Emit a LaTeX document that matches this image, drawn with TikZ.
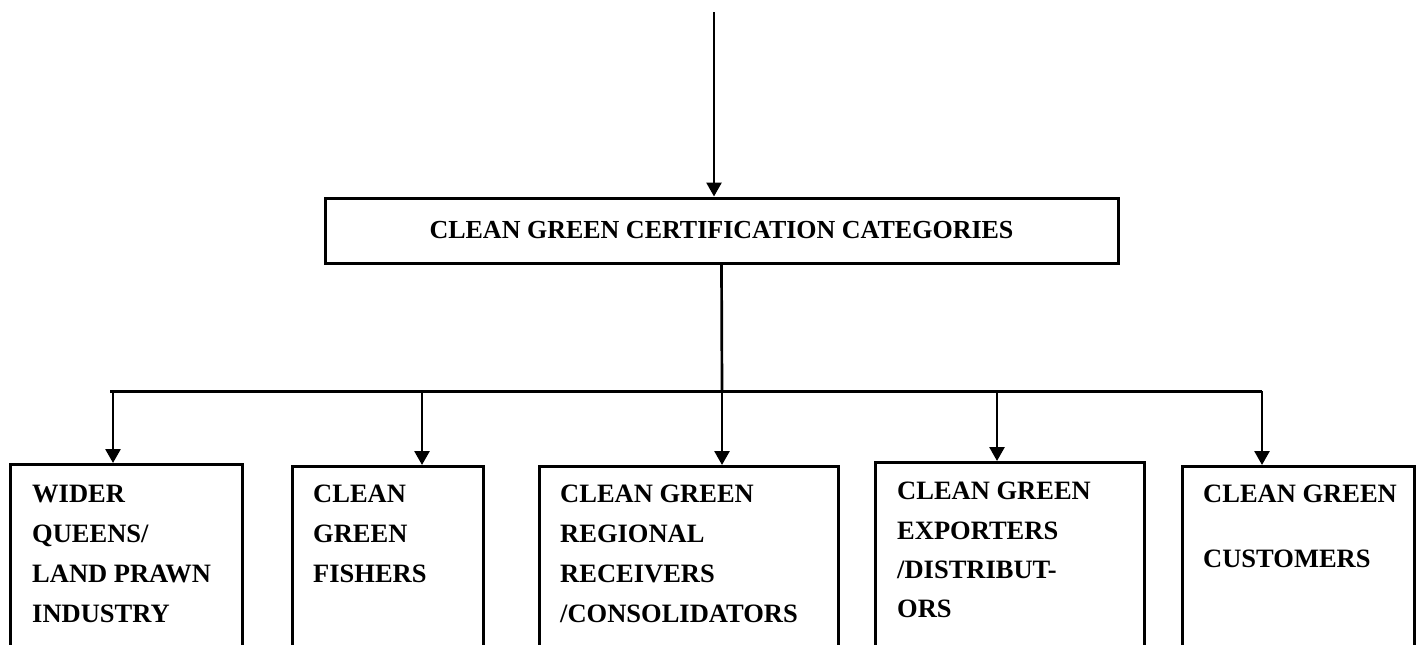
\documentclass[tikz,border=0pt]{standalone}
\usepackage{fontspec}
\setmainfont{Liberation Serif}
\usetikzlibrary{arrows.meta}
\begin{document}
\begin{tikzpicture}[x=1pt,y=-1pt,
  boxstyle/.style={draw,line width=3pt,inner sep=0pt,anchor=north west,minimum height=260pt},
  txt/.style={inner sep=0pt,anchor=north west,align=left,font=\fontsize{26.5}{40}\selectfont\bfseries},
  conn/.style={line width=2.7pt},
  arr/.style={line width=2.7pt,-{Triangle[width=15pt,length=14pt]}}]
\useasboundingbox (0,0) rectangle (1419,645);
% main box
\node[draw,line width=3pt,inner sep=0pt,minimum width=793pt,minimum height=65pt,
      font=\fontsize{26}{30}\selectfont\bfseries] (main) at (721.5,230.5)
      {CLEAN GREEN CERTIFICATION CATEGORIES};
% top incoming arrow
\coordinate (top) at (714,12);
\draw[arr] (top) -- (top |- main.north);
% bottom boxes
\node[boxstyle,minimum width=232pt] (b1) at (9,463) {};
\node[boxstyle,minimum width=191pt] (b2) at (291,465) {};
\node[boxstyle,minimum width=299pt] (b3) at (538,465) {};
\node[boxstyle,minimum width=269pt] (b4) at (874,461) {};
\node[boxstyle,minimum width=232pt] (b5) at (1181,465) {};
% texts
\node[txt] (t1) at (32,485) {WIDER\\QUEENS/\\LAND PRAWN\\INDUSTRY};
\node[txt] (t2) at (313,485) {CLEAN\\GREEN\\FISHERS};
\node[txt] (t3) at (560,485) {CLEAN GREEN\\REGIONAL\\RECEIVERS\\/CONSOLIDATORS};
\node[txt,font=\fontsize{26.5}{39.3}\selectfont\bfseries] (t4) at (897,482) {CLEAN GREEN\\EXPORTERS\\/DISTRIBUT-\\ORS};
\node[txt] (t5) at (1203,485) {CLEAN GREEN\\[25pt]CUSTOMERS};
% distribution line
\coordinate (hl) at (110,391);
\coordinate (hr) at (1262,391);
\coordinate (hm) at (722,391);
\draw[line width=3pt] (hl) -- (hr);
\draw[conn] (main.south) -- (hm);
\coordinate (a1) at (113,391);
\coordinate (a2) at (422,391);
\coordinate (a4) at (997,391);
\draw[arr] (a1) -- (a1 |- b1.north);
\draw[arr] (a2) -- (a2 |- b2.north);
\draw[arr] (hm) -- (hm |- b3.north);
\draw[arr] (a4) -- (a4 |- b4.north);
\draw[arr] (hr) -- (hr |- b5.north);
\end{tikzpicture}
\end{document}
